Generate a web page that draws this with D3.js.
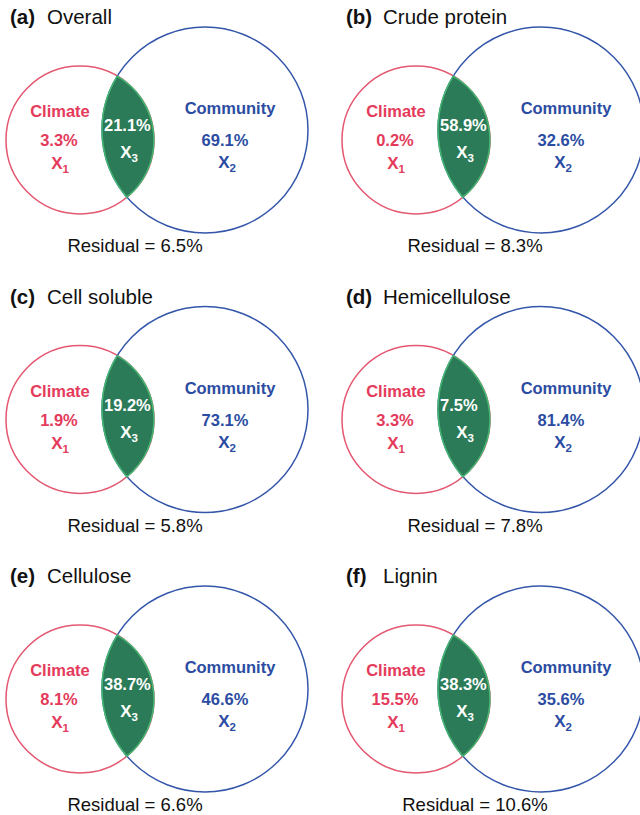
<!DOCTYPE html>
<html>
<head>
<meta charset="utf-8">
<script src="https://cdn.jsdelivr.net/npm/d3@7"></script>
<style>
  html, body { margin: 0; padding: 0; background: #fff; }
  svg { display: block; font-family: "Liberation Sans", Arial, Helvetica, sans-serif; }
</style>
</head>
<body>
<svg id="chart" width="640" height="815"></svg>
<script>
// Variance partitioning of forage quality between climate and plant community
const panelTags     = ["(a)", "(b)", "(c)", "(d)", "(e)", "(f)"];
const panelTitles   = ["Overall", "Crude protein", "Cell soluble", "Hemicellulose", "Cellulose", "Lignin"];
const climateOnly   = [3.3, 0.2, 1.9, 3.3, 8.1, 15.5];   // X1
const sharedPart    = [21.1, 58.9, 19.2, 7.5, 38.7, 38.3]; // X3
const communityOnly = [69.1, 32.6, 73.1, 81.4, 46.6, 35.6]; // X2
const residuals     = [6.5, 8.3, 5.8, 7.8, 6.6, 10.6];

const setNames = ["Climate", "Community"];

const RED = "#e43a5b", RED_LINE = "#e45870";
const BLUE = "#2b4ca2", BLUE_LINE = "#3456aa";
const GREEN = "#2c7b58", GREEN_EDGE = "#45b672";

const svg = d3.select("#chart");

// grid placement of the six panels
const colX = d3.scaleOrdinal().domain([0, 1]).range([0, 336]);
const rowY = d3.scaleOrdinal().domain([0, 1, 2]).range([0, 279.5, 559]);

// circle geometry inside one panel (panel-local pixels)
const cRed  = { x: 80,  y: 140, r: 74 };
const cBlue = { x: 205, y: 130, r: 103 };

// intersection points of two circles
function intersections(a, b) {
  const dx = b.x - a.x, dy = b.y - a.y;
  const d = Math.hypot(dx, dy);
  const l = (a.r * a.r - b.r * b.r + d * d) / (2 * d);
  const h = Math.sqrt(a.r * a.r - l * l);
  const mx = a.x + l * dx / d, my = a.y + l * dy / d;
  return [
    { x: mx + h * dy / d, y: my - h * dx / d },
    { x: mx - h * dy / d, y: my + h * dx / d }
  ];
}

function lensPath(a, b) {
  const [p, q] = intersections(a, b);
  // p -> q along the red circle (right side), q -> p along the blue circle (left side)
  const path = d3.path();
  path.moveTo(p.x, p.y);
  path.arc(a.x, a.y, a.r, Math.atan2(p.y - a.y, p.x - a.x), Math.atan2(q.y - a.y, q.x - a.x), false);
  path.arc(b.x, b.y, b.r, Math.atan2(q.y - b.y, q.x - b.x), Math.atan2(p.y - b.y, p.x - b.x), false);
  path.closePath();
  return path.toString();
}

const fmt = v => d3.format(".1f")(v) + "%";

const panels = svg.selectAll("g.panel")
  .data(panelTags.map((t, i) => ({ i, tag: t })))
  .join("g")
  .attr("class", "panel")
  .attr("transform", d => `translate(${colX(d.i % 2)},${rowY(Math.floor(d.i / 2))})`);

// title
panels.append("text")
  .attr("x", 10).attr("y", 24)
  .attr("font-size", 20.5).attr("font-weight", "bold").attr("fill", "#111")
  .text(d => d.tag);
panels.append("text")
  .attr("x", 47).attr("y", 24)
  .attr("font-size", 20.5).attr("fill", "#111")
  .text(d => panelTitles[d.i]);

// circles
panels.append("circle")
  .attr("cx", cRed.x).attr("cy", cRed.y).attr("r", cRed.r)
  .attr("fill", "none").attr("stroke", RED_LINE).attr("stroke-width", 1.5);
panels.append("circle")
  .attr("cx", cBlue.x).attr("cy", cBlue.y).attr("r", cBlue.r)
  .attr("fill", "none").attr("stroke", BLUE_LINE).attr("stroke-width", 1.5);

// shared region
panels.append("path")
  .attr("d", lensPath(cRed, cBlue))
  .attr("fill", GREEN).attr("stroke", GREEN_EDGE).attr("stroke-width", 1.5);

// labels with subscripted X
function xLabel(sel, x, y, sub, color) {
  const t = sel.append("text")
    .attr("x", x).attr("y", y)
    .attr("text-anchor", "middle")
    .attr("font-size", 17).attr("font-weight", "bold").attr("fill", color);
  t.append("tspan").text("X");
  t.append("tspan").attr("font-size", 11.5).attr("dy", 4).text(sub);
}

// climate part
panels.append("text")
  .attr("x", 60).attr("y", 117).attr("text-anchor", "middle")
  .attr("font-size", 16.5).attr("font-weight", "bold").attr("fill", RED)
  .text(setNames[0]);
panels.append("text")
  .attr("x", 59).attr("y", 146).attr("text-anchor", "middle")
  .attr("font-size", 16.5).attr("font-weight", "bold").attr("fill", RED)
  .text(d => fmt(climateOnly[d.i]));
xLabel(panels, 60, 169, "1", RED);

// shared part
panels.append("text")
  .attr("x", 104).attr("y", 131).attr("text-anchor", "start")
  .attr("font-size", 16.5).attr("font-weight", "bold").attr("fill", "#fff")
  .text(d => fmt(sharedPart[d.i]));
xLabel(panels, 129, 158, "3", "#fff");

// community part
panels.append("text")
  .attr("x", 230).attr("y", 114).attr("text-anchor", "middle")
  .attr("font-size", 16.5).attr("font-weight", "bold").attr("fill", BLUE)
  .text(setNames[1]);
panels.append("text")
  .attr("x", 225).attr("y", 146).attr("text-anchor", "middle")
  .attr("font-size", 16.5).attr("font-weight", "bold").attr("fill", BLUE)
  .text(d => fmt(communityOnly[d.i]));
xLabel(panels, 227, 168, "2", BLUE);

// residual
panels.append("text")
  .attr("x", d => d.i % 2 === 0 ? 135 : 139).attr("y", 252)
  .attr("text-anchor", "middle")
  .attr("font-size", 18.5).attr("fill", "#111")
  .text(d => "Residual = " + fmt(residuals[d.i]));
</script>
</body>
</html>
